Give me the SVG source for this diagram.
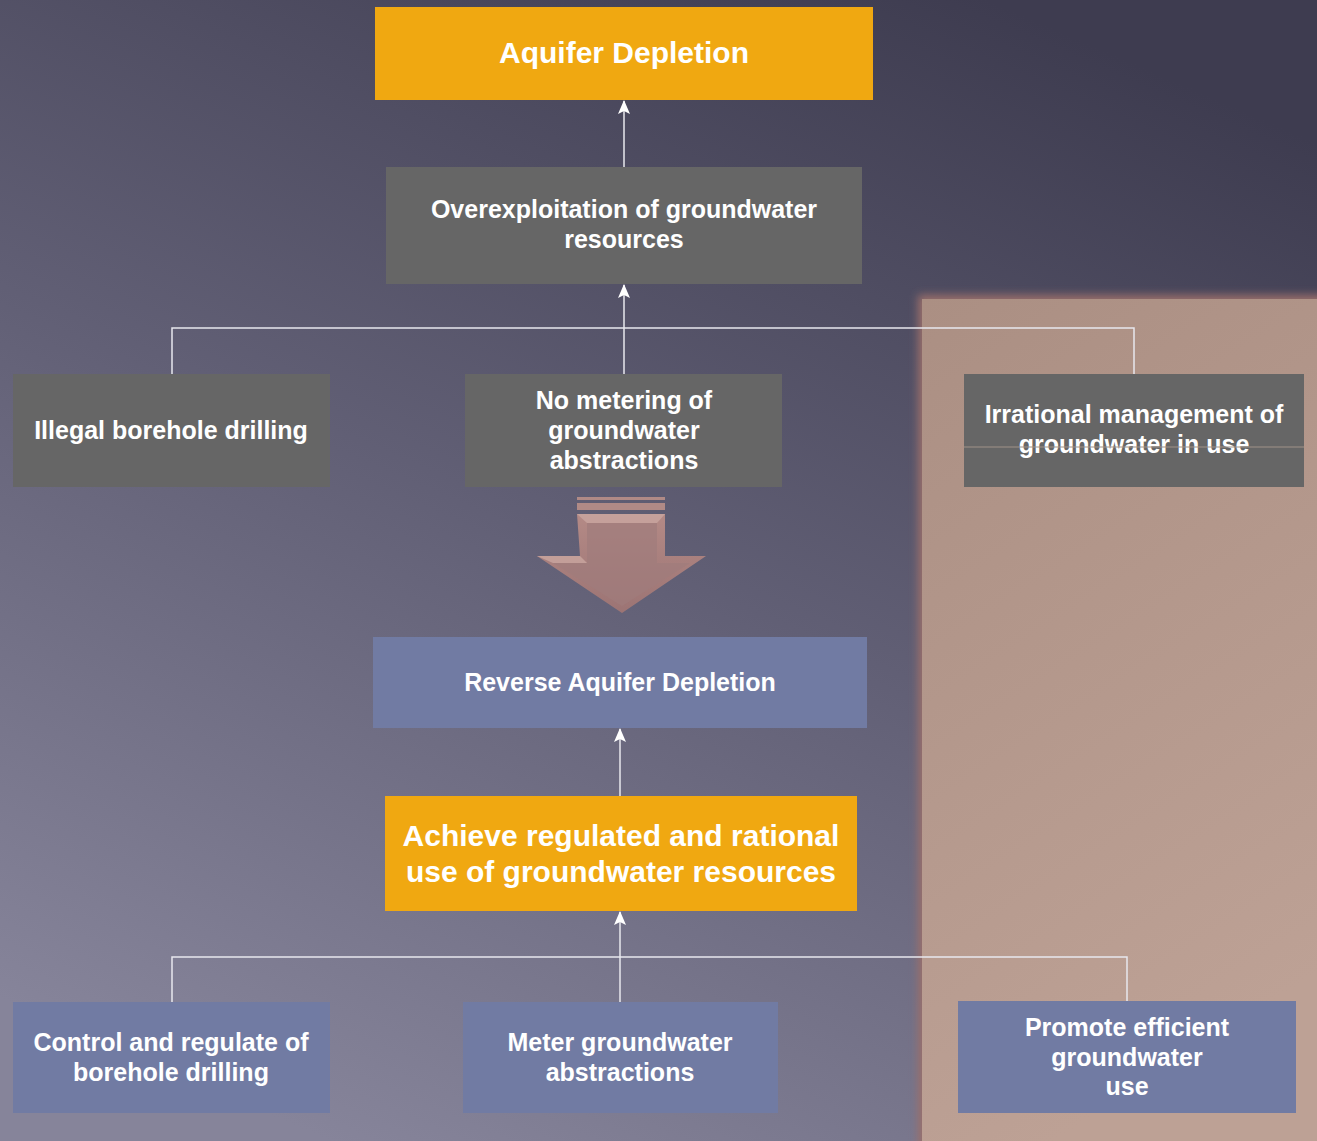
<svg xmlns="http://www.w3.org/2000/svg" width="1317" height="1141" viewBox="0 0 1317 1141">
<defs>
<linearGradient id="bg" x1="0.75" y1="0" x2="0.25" y2="1">
<stop offset="0" stop-color="#3e3c50"/>
<stop offset="0.5" stop-color="#615f75"/>
<stop offset="1" stop-color="#86849a"/>
</linearGradient>
<linearGradient id="panel" x1="0" y1="0" x2="0.3" y2="1">
<stop offset="0" stop-color="#ab8f83"/>
<stop offset="1" stop-color="#bda195"/>
</linearGradient>
<linearGradient id="arr" x1="0" y1="0" x2="0" y2="1">
<stop offset="0" stop-color="#b48a86"/>
<stop offset="1" stop-color="#9c7474"/>
</linearGradient>
<filter id="glow" x="-5%" y="-5%" width="110%" height="110%">
<feGaussianBlur stdDeviation="4"/>
</filter>
<marker id="ah" markerWidth="14" markerHeight="12" refX="13" refY="6" orient="auto" markerUnits="userSpaceOnUse" viewBox="0 0 14 12">
<path d="M14,6 L0,0 L3,6 L0,12 Z" fill="#ffffff"/>
</marker>
<style>
.t{font-family:"Liberation Sans",Arial,sans-serif;font-weight:bold;fill:#ffffff;text-anchor:middle}
.s22{font-size:25px}
.s28{font-size:30px}
.gray{fill:#666666}
.orange{fill:#f0a811}
.blue{fill:#717ba3}
.c{stroke:#e8e8ee;stroke-width:1.5;fill:none}
</style>
</defs>
<rect x="0" y="0" width="1317" height="1141" fill="url(#bg)"/>
<g id="panel-bg">
<rect x="918" y="295" width="410" height="860" fill="#9a6e6a" filter="url(#glow)"/>
<rect x="922" y="299" width="400" height="850" fill="url(#panel)"/>
</g>

<g id="connectors">
<path class="c" d="M624,167 L624,101" marker-end="url(#ah)"/>
<path class="c" d="M172,374 L172,328 L1134,328 L1134,374"/>
<path class="c" d="M624,374 L624,285" marker-end="url(#ah)"/>
<path class="c" d="M620,796 L620,729" marker-end="url(#ah)"/>
<path class="c" d="M172,1002 L172,957 L1127,957 L1127,1001"/>
<path class="c" d="M620,1002 L620,912" marker-end="url(#ah)"/>
</g>

<g id="n-aquifer">
<rect class="orange" x="375" y="7" width="498" height="93"/>
<text class="t s28" x="624" y="63">Aquifer Depletion</text>
</g>
<g id="n-overexploitation">
<rect class="gray" x="386" y="167" width="476" height="117"/>
<text class="t s22" x="624" y="218">Overexploitation of groundwater</text>
<text class="t s22" x="624" y="248">resources</text>
</g>
<g id="n-illegal">
<rect class="gray" x="13" y="374" width="317" height="113"/>
<text class="t s22" x="171" y="439">Illegal borehole drilling</text>
</g>
<g id="n-nometering">
<rect class="gray" x="465" y="374" width="317" height="113"/>
<text class="t s22" x="624" y="409">No metering of</text>
<text class="t s22" x="624" y="439">groundwater</text>
<text class="t s22" x="624" y="469">abstractions</text>
</g>
<g id="n-irrational">
<rect class="gray" x="964" y="374" width="340" height="113"/>
<text class="t s22" x="1134" y="423">Irrational management of</text>
<text class="t s22" x="1134" y="453">groundwater in use</text>
<line x1="964" y1="447" x2="1304" y2="447" stroke="#a09288" stroke-width="1"/>
</g>

<g id="big-arrow">
<rect x="577" y="497" width="88" height="3" fill="#b08a86"/>
<rect x="577" y="503" width="88" height="7" fill="#b08a86"/>
<path d="M577,514 L665,514 L665,556 L706,556 L622,613 L537,556 L580,556 Z" fill="url(#arr)"/>
<path d="M587,523 L657,523 L657,563 L690,563 L622,606 L553,563 L587,563 Z" fill="#a07c7c" opacity="0.7"/>
<path d="M577,514 L665,514 L657,523 L587,523 Z" fill="#c9a6a0" opacity="0.8"/>
<path d="M537,556 L580,556 L587,563 L553,563 Z" fill="#c9a6a0" opacity="0.8"/>
</g>

<g id="n-reverse">
<rect class="blue" x="373" y="637" width="494" height="91"/>
<text class="t s22" x="620" y="691">Reverse Aquifer Depletion</text>
</g>
<g id="n-achieve">
<rect class="orange" x="385" y="796" width="472" height="115"/>
<text class="t s28" x="621" y="846">Achieve regulated and rational</text>
<text class="t s28" x="621" y="882">use of groundwater resources</text>
</g>
<g id="n-control">
<rect class="blue" x="13" y="1002" width="317" height="111"/>
<text class="t s22" x="171" y="1051">Control and regulate of</text>
<text class="t s22" x="171" y="1081">borehole drilling</text>
</g>
<g id="n-meter">
<rect class="blue" x="463" y="1002" width="315" height="111"/>
<text class="t s22" x="620" y="1051">Meter groundwater</text>
<text class="t s22" x="620" y="1081">abstractions</text>
</g>
<g id="n-promote">
<rect class="blue" x="958" y="1001" width="338" height="112"/>
<text class="t s22" x="1127" y="1036">Promote efficient</text>
<text class="t s22" x="1127" y="1066">groundwater</text>
<text class="t s22" x="1127" y="1095">use</text>
</g>
</svg>
